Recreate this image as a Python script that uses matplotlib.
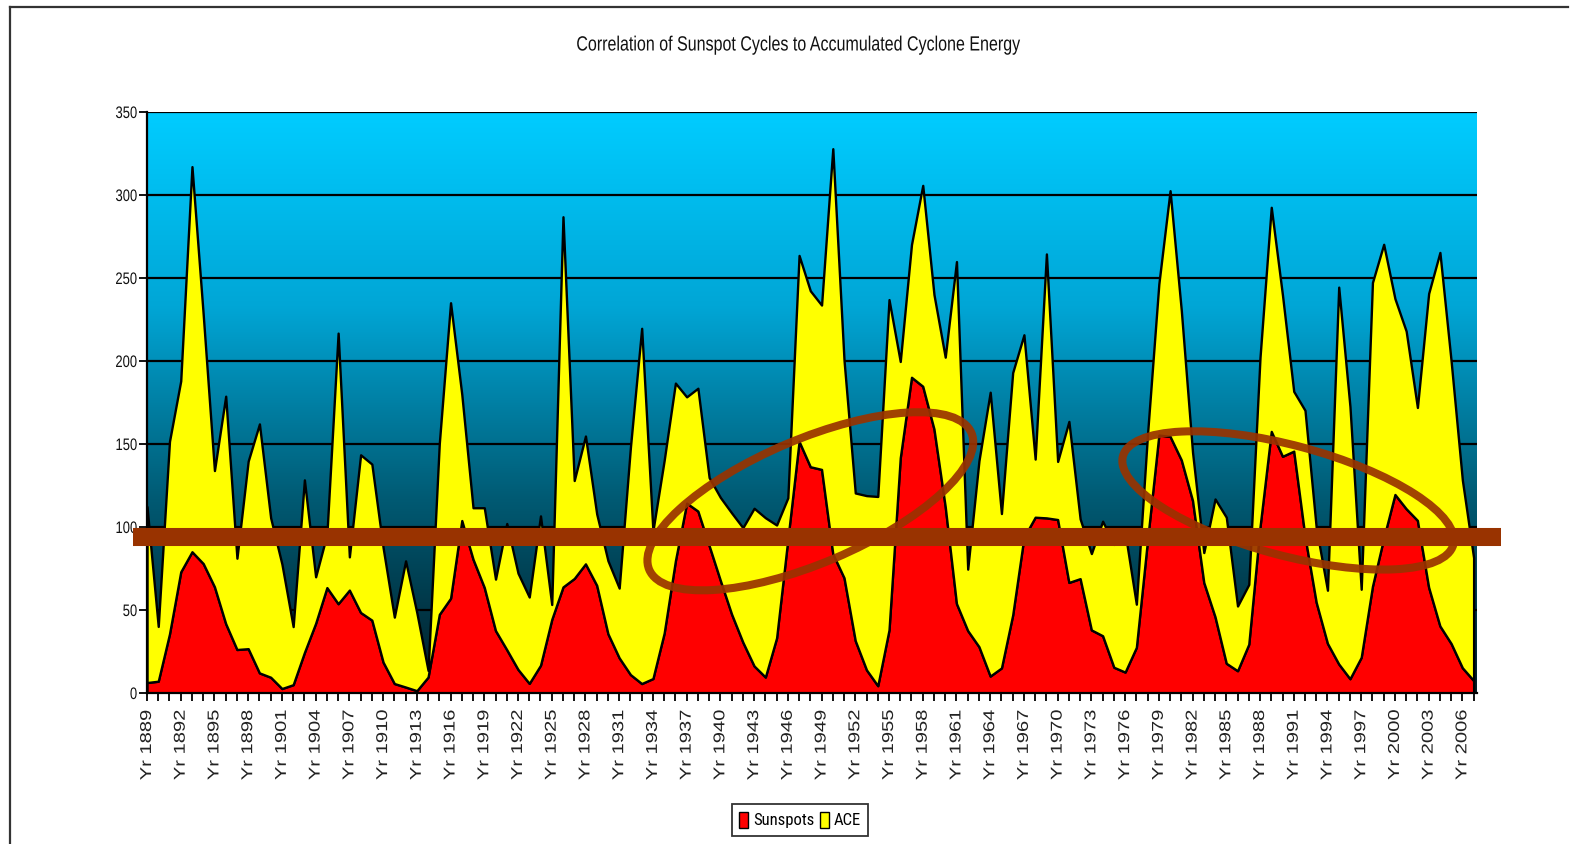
import numpy as np
import matplotlib
matplotlib.use("Agg")
import matplotlib.pyplot as plt
from matplotlib.patches import Ellipse, Patch
from matplotlib.lines import Line2D
from matplotlib.colors import LinearSegmentedColormap
from matplotlib.transforms import Affine2D
from matplotlib.patheffects import AbstractPathEffect

# ------------------------------------------------------------
# data: yearly sunspot number and Atlantic ACE, 1889-2007
# ------------------------------------------------------------
years = np.arange(1889, 2008)

sunspots = [
    6.3, 7.1, 35.6, 73.0, 85.1, 78.0, 64.0, 41.8, 26.2, 26.7,      # 1889-1898
    12.1, 9.5, 2.7, 5.0, 24.4, 42.0, 63.5, 53.8, 62.0, 48.5,       # 1899-1908
    43.9, 18.6, 5.7, 3.6, 1.4, 9.6, 47.4, 57.1, 103.9, 80.6,       # 1909-1918
    63.6, 37.6, 26.1, 14.2, 5.8, 16.7, 44.3, 63.9, 69.0, 77.8,     # 1919-1928
    64.9, 35.7, 21.2, 11.1, 5.7, 8.7, 36.1, 79.7, 114.4, 109.6,    # 1929-1938
    88.8, 67.8, 47.5, 30.6, 16.3, 9.6, 33.2, 92.6, 151.6, 136.3,   # 1939-1948
    134.7, 83.9, 69.4, 31.5, 13.9, 4.4, 38.0, 141.7, 190.2, 184.8, # 1949-1958
    159.0, 112.3, 53.9, 37.6, 27.9, 10.2, 15.1, 47.0, 93.8, 105.9, # 1959-1968
    105.5, 104.5, 66.6, 68.9, 38.0, 34.5, 15.5, 12.6, 27.5, 92.5,  # 1969-1978
    155.4, 154.6, 140.4, 115.9, 66.6, 45.9, 17.9, 13.4, 29.4, 100.2,  # 1979-1988
    157.6, 142.6, 145.7, 94.3, 54.6, 29.9, 17.5, 8.6, 21.5, 64.3,  # 1989-1998
    93.3, 119.6, 111.0, 104.0, 63.7, 40.4, 29.8, 15.2, 7.5,        # 1999-2007
]

ace = [
    106, 33, 116, 115, 232, 150, 70, 137, 55, 113,     # 1889-1898
    150, 96, 75, 35, 104, 28, 32, 163, 20, 95,         # 1899-1908
    94, 69, 40, 76, 47, 4, 103, 178, 76, 31,           # 1909-1918
    48, 31, 76, 58, 52, 90, 9, 223, 59, 77,            # 1919-1928
    43, 44, 42, 137, 214, 89, 104, 107, 64, 74,        # 1929-1938
    41, 50, 61, 69, 95, 96, 68, 25, 112, 106,          # 1939-1948
    99, 244, 131, 89, 105, 114, 199, 58, 80, 121,      # 1949-1958
    81, 90, 206, 37, 112, 171, 93, 146, 122, 35,       # 1959-1968
    159, 35, 97, 36, 46, 69, 74, 84, 26, 64,           # 1969-1978
    91, 148, 90, 29, 18, 71, 88, 39, 36, 102,          # 1979-1988
    135, 97, 36, 76, 45, 32, 227, 164, 41, 183,        # 1989-1998
    177, 118, 107, 68, 177, 225, 170, 113, 74,         # 1999-2007
]

y_ticks = [0, 50, 100, 150, 200, 250, 300, 350]
label_years = years[::3]
tick_labels = [f"Yr {y}" for y in label_years]

TITLE = "Correlation of Sunspot Cycles to Accumulated Cyclone Energy"
SERIES = ["Sunspots", "ACE"]

# reference level and the two highlighted cycle pairs (year, value)
LEVEL = 94
LEVEL_SPAN = (1887.75, 2009.4)
RINGS = [
    # centre year, centre value, width px, height px, angle deg
    (1948.0, 115.5, 350, 124, 23),
    (1990.5, 116.0, 342, 110, -15),
]

# ------------------------------------------------------------
# style
# ------------------------------------------------------------
FONT = ["Liberation Sans", "DejaVu Sans"]
LEGEND_FONT = ["Roboto Condensed", "Liberation Sans", "DejaVu Sans"]
plt.rcParams["font.family"] = FONT
RED = "#FF0000"
YELLOW = "#FFFF00"
BROWN = "#993300"
SQUEEZE = 0.78   # the chart text is set in a narrow face


class Squeeze(AbstractPathEffect):
    """Compress text horizontally around its centre or right edge."""

    def __init__(self, sx, anchor="center"):
        super().__init__()
        self.sx = sx
        self.anchor = anchor

    def draw_path(self, renderer, gc, tpath, affine, rgbFace=None):
        ext = tpath.get_extents(affine)
        if self.anchor == "right":
            cx = ext.x1
        elif self.anchor == "left":
            cx = ext.x0
        else:
            cx = 0.5 * (ext.x0 + ext.x1)
        t = affine + Affine2D().translate(-cx, 0).scale(self.sx, 1).translate(cx, 0)
        renderer.draw_path(gc, tpath, t, rgbFace)


W, H, DPI = 1575, 844, 100
fig = plt.figure(figsize=(W / DPI, H / DPI), dpi=DPI)
fig.patch.set_facecolor("white")

# plot area placed in pixels
left, right, top, bottom = 147, 1477, 112, 693
ax = fig.add_axes([left / W, (H - bottom) / H, (right - left) / W, (bottom - top) / H])

x0, x1 = years[0], years[-1] + 0.3
ax.set_xlim(x0, x1)
ax.set_ylim(0, 350)

# vertical gradient fill behind the series
grad = LinearSegmentedColormap.from_list("bg", ["#021c26", "#005a73", "#00a6d6", "#00CCFF"])
ax.imshow(np.linspace(0, 1, 256).reshape(-1, 1), cmap=grad, origin="lower",
          extent=[x0, x1, 0, 350], aspect="auto", zorder=0)

for yv in y_ticks[1:]:
    ax.axhline(yv, color="black", lw=1.6, zorder=1)

ax.stackplot(years, sunspots, ace, colors=[RED, YELLOW],
             edgecolor="black", linewidth=1.7, zorder=2)

# spines / ticks
for s in ["top", "right"]:
    ax.spines[s].set_visible(False)
for s in ["left", "bottom"]:
    ax.spines[s].set_linewidth(1.6)
    ax.spines[s].set_zorder(3)

ax.set_yticks(y_ticks)
ax.set_yticklabels([str(v) for v in y_ticks], fontsize=12, color="#111111")
ax.set_xticks(years, minor=True)
ax.set_xticks(label_years)
ax.set_xticklabels(tick_labels, rotation=90, fontsize=14.5, color="#222222")
ax.tick_params(axis="both", which="both", direction="out", length=6, width=1.3)
ax.tick_params(axis="x", pad=6)
ax.tick_params(axis="y", pad=1)
for lab in ax.get_yticklabels():
    lab.set_path_effects([Squeeze(SQUEEZE, "right")])
for lab in ax.get_xticklabels():
    lab.set_path_effects([Squeeze(SQUEEZE)])

# reference level bar and highlight rings
ax.plot(LEVEL_SPAN, [LEVEL, LEVEL], color=BROWN, lw=13, solid_capstyle="butt",
        clip_on=False, zorder=5)

for cx, cy, w, h, ang in RINGS:
    px, py = ax.transData.transform((cx, cy))
    ring = Ellipse((0, 0), w, h, angle=ang, fill=False, edgecolor=BROWN,
                   lw=5.8, alpha=0.92,
                   transform=Affine2D().translate(px, py))
    fig.add_artist(ring)

# title and legend
title = fig.text(797 / W, 1 - 45 / H, TITLE, ha="center", va="center",
                 fontsize=14.8, color="#111111")
title.set_path_effects([Squeeze(SQUEEZE)])

handles = [Patch(facecolor=RED, edgecolor="black", lw=1.0),
           Patch(facecolor=YELLOW, edgecolor="black", lw=1.0)]
leg = fig.legend(handles, SERIES, loc="center", bbox_to_anchor=(800 / W, 1 - 820 / H),
                 ncol=2, frameon=True, fancybox=False,
                 prop={"family": LEGEND_FONT, "size": 12},
                 handlelength=0.55, handleheight=1.1, handletextpad=0.3,
                 columnspacing=0.3, borderpad=0.45, borderaxespad=0)
leg.get_frame().set_edgecolor("black")
leg.get_frame().set_linewidth(1.3)

# outer frame (left and top edges)
fig.add_artist(Line2D([10 / W, 10 / W], [0, 1 - 7 / H], color="#333333", lw=1.6))
fig.add_artist(Line2D([10 / W, 1568 / W], [1 - 7 / H, 1 - 7 / H], color="#333333", lw=1.6))

fig.savefig("out.png", dpi=DPI)
